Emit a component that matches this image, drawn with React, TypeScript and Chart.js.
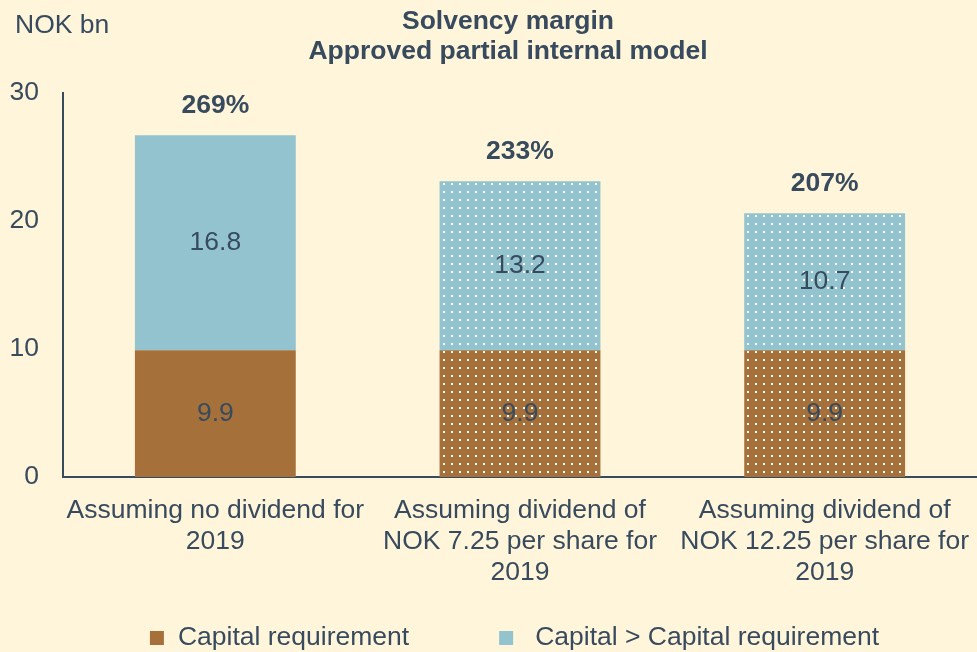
import React, { useEffect, useRef } from "react";
import { Chart, registerables } from "chart.js";

Chart.register(...registerables);

const categories: string[][] = [
  ["Assuming no dividend for", "2019"],
  ["Assuming dividend of", "NOK 7.25 per share for", "2019"],
  ["Assuming dividend of", "NOK 12.25 per share for", "2019"],
];
const capitalRequirement = [9.9, 9.9, 9.9];
const capitalExcess = [16.8, 13.2, 10.7];
const solvencyRatios = ["269%", "233%", "207%"];
const seriesNames = ["Capital requirement", "Capital > Capital requirement"];
const dotted = [false, true, true];
const yMin = 0;
const yMax = 30;
const yStep = 10;
const titleLines = ["Solvency margin", "Approved partial internal model"];
const unitLabel = "NOK bn";

const BG = "#FFF5DA";
const TEXT = "#384B5E";
const BROWN = "#A5703A";
const BLUE = "#93C3CF";
const FONT = "'Liberation Sans', Arial, sans-serif";
const FS = 26.5;

function makePattern(color: string): CanvasPattern | string {
  const c = document.createElement("canvas");
  c.width = 8;
  c.height = 8;
  const ctx = c.getContext("2d");
  if (!ctx) return color;
  ctx.fillStyle = color;
  ctx.fillRect(0, 0, 8, 8);
  ctx.fillStyle = "#FFFFFF";
  ctx.fillRect(3, 7, 2, 1);
  ctx.fillRect(3, 0, 2, 1);
  const p = ctx.createPattern(c, "repeat");
  return p || color;
}

export default function App() {
  const ref = useRef<HTMLCanvasElement | null>(null);

  useEffect(() => {
    document.body.style.margin = "0";
    document.body.style.background = BG;
    const canvas = ref.current;
    if (!canvas) return;

    const brownPat = makePattern(BROWN);
    const bluePat = makePattern(BLUE);

    const overlay = {
      id: "overlay",
      beforeDraw(chart: any) {
        const ctx = chart.ctx;
        ctx.save();
        ctx.fillStyle = BG;
        ctx.fillRect(0, 0, chart.width, chart.height);
        ctx.restore();
      },
      afterDraw(chart: any) {
        const ctx = chart.ctx;
        ctx.save();
        ctx.fillStyle = TEXT;
        // unit label
        ctx.font = `${FS}px ${FONT}`;
        ctx.textAlign = "left";
        ctx.textBaseline = "alphabetic";
        ctx.fillText(unitLabel, 15, 33);
        // title
        ctx.font = `bold ${FS}px ${FONT}`;
        ctx.textAlign = "center";
        ctx.fillText(titleLines[0], 508, 29);
        ctx.fillText(titleLines[1], 508, 59);

        // value labels
        const metaA = chart.getDatasetMeta(0);
        const metaB = chart.getDatasetMeta(1);
        ctx.font = `${FS}px ${FONT}`;
        ctx.textBaseline = "middle";
        metaA.data.forEach((bar: any, i: number) => {
          ctx.fillText(String(capitalRequirement[i]), bar.x, (bar.y + bar.base) / 2);
        });
        metaB.data.forEach((bar: any, i: number) => {
          ctx.fillText(String(capitalExcess[i]), bar.x, (bar.y + bar.base) / 2);
        });
        // ratios
        ctx.font = `bold ${FS}px ${FONT}`;
        ctx.textBaseline = "alphabetic";
        metaB.data.forEach((bar: any, i: number) => {
          ctx.fillText(solvencyRatios[i], bar.x, bar.y - 22);
        });

        // legend
        ctx.font = `${FS}px ${FONT}`;
        const colors = [BROWN, BLUE];
        const box = 14;
        const gapBoxText = [14, 22];
        const gapItems = 90;
        const widths = seriesNames.map((s) => ctx.measureText(s).width);
        const total = widths.reduce((a, w, i) => a + box + gapBoxText[i] + w, 0) + gapItems;
        let x = 514.5 - total / 2;
        const baseline = 645;
        ctx.textAlign = "left";
        seriesNames.forEach((s, i) => {
          ctx.fillStyle = colors[i];
          ctx.fillRect(x, baseline - box, box, box);
          x += box + gapBoxText[i];
          ctx.fillStyle = TEXT;
          ctx.fillText(s, x, baseline);
          x += widths[i] + gapItems;
        });
        ctx.restore();
      },
    };

    const chart = new Chart(canvas, {
      type: "bar",
      data: {
        labels: categories,
        datasets: [
          {
            label: seriesNames[0],
            data: capitalRequirement,
            backgroundColor: dotted.map((d) => (d ? brownPat : BROWN)) as any,
            borderWidth: 0,
          },
          {
            label: seriesNames[1],
            data: capitalExcess,
            backgroundColor: dotted.map((d) => (d ? bluePat : BLUE)) as any,
            borderWidth: 0,
          },
        ],
      },
      options: {
        responsive: false,
        animation: false,
        layout: { padding: { top: 93, right: 0, left: 0, bottom: 0 } },
        datasets: { bar: { categoryPercentage: 1, barPercentage: 0.528 } } as any,
        plugins: {
          legend: { display: false },
          title: { display: false },
          tooltip: { enabled: false },
        },
        scales: {
          x: {
            stacked: true,
            grid: { display: false, drawTicks: false },
            border: { display: true, color: TEXT, width: 2 },
            ticks: {
              color: TEXT,
              font: { family: FONT, size: FS, lineHeight: 1.17 },
              padding: 18,
              maxRotation: 0,
              autoSkip: false,
            },
            afterFit(scale: any) {
              scale.height = 175;
              scale.paddingRight = 0;
              scale.paddingLeft = 0;
            },
          },
          y: {
            stacked: true,
            min: yMin,
            max: yMax,
            grid: { display: false, drawTicks: false },
            border: { display: true, color: TEXT, width: 2 },
            ticks: {
              stepSize: yStep,
              color: TEXT,
              font: { family: FONT, size: FS },
              padding: 24,
            },
            afterFit(scale: any) {
              scale.width = 63;
            },
          },
        },
      },
      plugins: [overlay],
    });

    return () => chart.destroy();
  }, []);

  return (
    <div style={{ width: 977, height: 652, background: BG }}>
      <canvas ref={ref} width={977} height={652} style={{ display: "block" }} />
    </div>
  );
}
